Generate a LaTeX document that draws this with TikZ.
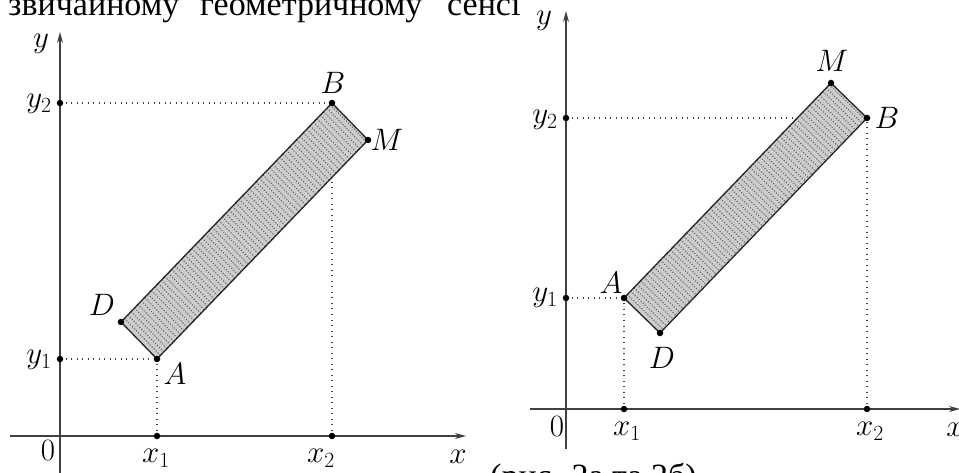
\RequirePackage{fix-cm}
\documentclass[tikz,border=0pt]{standalone}
\usepackage{fontspec}
\newfontfamily\cyr{Liberation Serif}
\usetikzlibrary{arrows.meta,calc}
\begin{document}
\begin{tikzpicture}[x=1pt,y=-1pt,
  axis/.style={line width=1.4pt,draw=black!75,-{Stealth[length=11pt,width=6pt]}},
  guide/.style={line width=1.1pt,dash pattern=on 1pt off 4.5pt,draw=black!75},
  side/.style={line width=1.3pt,draw=black!85,line join=round},
  lbl/.style={font=\fontsize{31}{34}\selectfont,inner sep=0pt},
  dotfill/.style={dash pattern=on 1.2pt off 1.6pt,line width=1pt,draw=black!60},
  pt/.style={circle,fill=black,inner sep=0pt,minimum size=6.5pt},
  txt/.style={font=\cyr\fontsize{34}{37}\selectfont,inner sep=0pt,anchor=base west}]
\useasboundingbox (0,0) rectangle (959,473);

% ---------- text ----------
\node[txt] (t1) at (8,16) {звичайному};
\node[txt] (t2) at (200,16) {геометричному};
\node[txt] (t3) at (447,16) {сенсі};
\node[txt] (t4) at (490,487) {(рис. 2а та 2б)};

% ---------- left figure ----------
\coordinate (lXs) at (10,436); \coordinate (lXe) at (466,436);
\coordinate (lYs) at (60,480); \coordinate (lYe) at (60,32);
\coordinate (lA) at (157,359); \coordinate (lM) at (368,140);
\coordinate (lB) at (332,103); \coordinate (lD) at (121,322);
\coordinate (lx1) at (157,436); \coordinate (lx2) at (332,436);
\coordinate (ly1) at (60,359); \coordinate (ly2) at (60,103);

\draw[guide] (ly1) -- (lA);
\draw[guide] (lx1) -- (lA);
\draw[guide] (ly2) -- (lB);
\draw[guide] (lx2) -- (lB);

\fill[black!20] (lA) -- (lM) -- (lB) -- (lD) -- cycle;
\begin{scope}
  \clip (lA) -- (lM) -- (lB) -- (lD) -- cycle;
  \foreach \t in {0,0.016,...,1.01}
    \draw[dotfill] ($(lD)!\t!(lB)$) -- ($(lA)!\t!(lM)$);
\end{scope}
\draw[side] (lA) -- (lM) -- (lB) -- (lD) -- cycle;

\draw[axis] (lXs) -- (lXe);
\draw[axis] (lYs) -- (lYe);

\foreach \p in {lA,lM,lB,lD,lx1,lx2,ly1,ly2} \node[pt] (d\p) at (\p) {};

\node[lbl] (lyl) at (41,44) {$y$};
\node[lbl] (lxl) at (458,457) {$x$};
\node[lbl] (l0) at (48,451) {$0$};
\node[lbl] (lx1l) at (156,458) {$x_1$};
\node[lbl] (lx2l) at (321,458) {$x_2$};
\node[lbl] (ly1l) at (39,360) {$y_1$};
\node[lbl] (ly2l) at (39,104) {$y_2$};
\node[lbl] (lAl) at (175,374) {$A$};
\node[lbl] (lDl) at (102,305) {$D$};
\node[lbl] (lBl) at (333,83) {$B$};
\node[lbl] (lMl) at (387,140) {$M$};

% ---------- right figure ----------
\coordinate (rXs) at (530,409); \coordinate (rXe) at (960,409);
\coordinate (rYs) at (566,449); \coordinate (rYe) at (566,11);
\coordinate (rA) at (624,298); \coordinate (rD) at (660,333);
\coordinate (rB) at (867,118); \coordinate (rM) at (831,83);
\coordinate (rx1) at (624,409); \coordinate (rx2) at (867,409);
\coordinate (ry1) at (566,298); \coordinate (ry2) at (566,118);

\draw[guide] (ry1) -- (rA);
\draw[guide] (rx1) -- (rA);
\draw[guide] (ry2) -- (rB);
\draw[guide] (rx2) -- (rB);

\fill[black!20] (rA) -- (rM) -- (rB) -- (rD) -- cycle;
\begin{scope}
  \clip (rA) -- (rM) -- (rB) -- (rD) -- cycle;
  \foreach \t in {0,0.016,...,1.01}
    \draw[dotfill] ($(rA)!\t!(rM)$) -- ($(rD)!\t!(rB)$);
\end{scope}
\draw[side] (rA) -- (rM) -- (rB) -- (rD) -- cycle;

\draw[axis] (rXs) -- (rXe);
\draw[axis] (rYs) -- (rYe);

\foreach \p in {rA,rM,rB,rD,rx1,rx2,ry1,ry2} \node[pt] (d\p) at (\p) {};

\node[lbl] (ryl) at (544,21) {$y$};
\node[lbl] (rxl) at (955,430) {$x$};
\node[lbl] (r0) at (557,427) {$0$};
\node[lbl] (rx1l) at (627,431) {$x_1$};
\node[lbl] (rx2l) at (870,431) {$x_2$};
\node[lbl] (ry1l) at (545,298) {$y_1$};
\node[lbl] (ry2l) at (545,120) {$y_2$};
\node[lbl] (rAl) at (611,283) {$A$};
\node[lbl] (rDl) at (662,358) {$D$};
\node[lbl] (rMl) at (832,61) {$M$};
\node[lbl] (rBl) at (887,118) {$B$};
\end{tikzpicture}
\end{document}
